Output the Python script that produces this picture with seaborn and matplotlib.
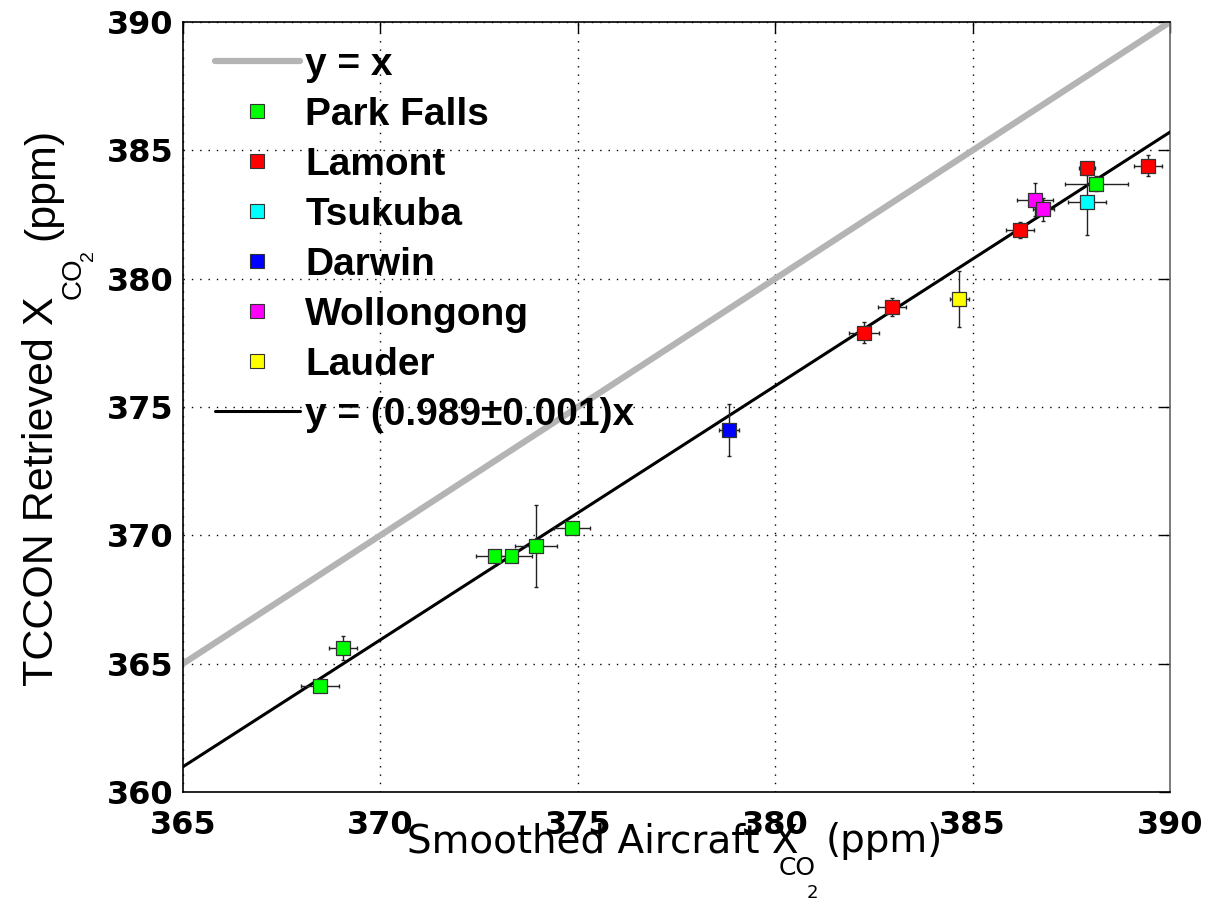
import numpy as np
import pandas as pd
import seaborn as sns
import matplotlib
matplotlib.use("Agg")
import matplotlib.pyplot as plt
from matplotlib.lines import Line2D

# ---------------- data ----------------
sites = ["Park Falls", "Lamont", "Tsukuba", "Darwin", "Wollongong", "Lauder"]
site_colors = ["#00ff00", "#ff0000", "#00ffff", "#0000ff", "#ff00ff", "#ffff00"]

park_x = [368.47, 369.05, 372.89, 373.32, 373.95, 374.85, 388.13]
park_y = [364.13, 365.60, 369.20, 369.20, 369.60, 370.30, 383.70]
park_xe = [0.47, 0.36, 0.46, 0.52, 0.53, 0.46, 0.80]
park_ye = [0.15, 0.47, 0.15, 0.15, 1.60, 0.20, 0.30]

lamont_x = [382.25, 382.96, 386.20, 387.90, 389.44]
lamont_y = [377.90, 378.90, 381.90, 384.30, 384.40]
lamont_xe = [0.37, 0.36, 0.36, 0.20, 0.36]
lamont_ye = [0.42, 0.34, 0.30, 0.25, 0.40]

tsukuba_x = [387.90]
tsukuba_y = [383.00]
tsukuba_xe = [0.48]
tsukuba_ye = [1.30]

darwin_x = [378.83]
darwin_y = [374.10]
darwin_xe = [0.26]
darwin_ye = [1.00]

wollongong_x = [386.58, 386.79]
wollongong_y = [383.08, 382.70]
wollongong_xe = [0.45, 0.26]
wollongong_ye = [0.63, 0.45]

lauder_x = [384.66]
lauder_y = [379.20]
lauder_xe = [0.24]
lauder_ye = [1.10]

fit_slope = 0.989
fit_label = "y = (0.989\u00b10.001)x"
one_label = "y = x"
axis_range = [365, 390]
y_range = [360, 390]
xticks = [365, 370, 375, 380, 385, 390]
yticks = [360, 365, 370, 375, 380, 385, 390]
xlabel_parts = ["Smoothed Aircraft X", "CO", "2", "(ppm)"]
ylabel_parts = ["TCCON Retrieved X", "CO", "2", "(ppm)"]

# ---------------- build table ----------------
groups = [
    ("Park Falls", park_x, park_y, park_xe, park_ye),
    ("Lamont", lamont_x, lamont_y, lamont_xe, lamont_ye),
    ("Tsukuba", tsukuba_x, tsukuba_y, tsukuba_xe, tsukuba_ye),
    ("Darwin", darwin_x, darwin_y, darwin_xe, darwin_ye),
    ("Wollongong", wollongong_x, wollongong_y, wollongong_xe, wollongong_ye),
    ("Lauder", lauder_x, lauder_y, lauder_xe, lauder_ye),
]
rows = []
for name, xs, ys, xes, yes in groups:
    for a, b, c, d in zip(xs, ys, xes, yes):
        rows.append(dict(site=name, aircraft=a, tccon=b, xerr=c, yerr=d))
df = pd.DataFrame(rows)

line_x = np.array(axis_range, dtype=float)
lines = pd.DataFrame({"x": line_x, "one": line_x, "fit": fit_slope * line_x})

# ---------------- style ----------------
sns.set_theme(style="white")
plt.rcParams["font.family"] = ["Liberation Sans", "DejaVu Sans"]
for k in ["text.color", "axes.labelcolor", "xtick.color", "ytick.color", "axes.edgecolor"]:
    plt.rcParams[k] = "black"

W, H = 1222, 905
fig = plt.figure(figsize=(W / 100, H / 100), dpi=100)
ax = fig.add_axes([183 / W, (H - 792) / H, 987 / W, 770 / H])

# reference lines
sns.lineplot(data=lines, x="x", y="one", ax=ax, color="#b4b4b4", linewidth=4.5,
             legend=False, zorder=2)
sns.lineplot(data=lines, x="x", y="fit", ax=ax, color="black", linewidth=2.2,
             legend=False, zorder=3)

# error bars
ax.errorbar(df["aircraft"], df["tccon"], xerr=df["xerr"], yerr=df["yerr"],
            fmt="none", ecolor="#222222", elinewidth=1.0, capsize=1.5,
            capthick=1.0, zorder=4)

# points
palette = dict(zip(sites, site_colors))
sns.scatterplot(data=df, x="aircraft", y="tccon", hue="site", palette=palette,
                hue_order=sites, marker="s", s=100, edgecolor="#333333",
                linewidth=0.9, ax=ax, legend=False, zorder=5)

# axes
ax.set_xlim(axis_range)
ax.set_ylim(y_range)
ax.set_xticks(xticks)
ax.set_yticks(yticks)
ax.set_xticklabels([str(t) for t in xticks], fontfamily="DejaVu Sans",
                   fontweight="bold", fontsize=23)
ax.set_yticklabels([str(t) for t in yticks], fontfamily="DejaVu Sans",
                   fontweight="bold", fontsize=23)
ax.tick_params(axis="both", direction="in", length=8, width=1,
               top=True, right=True, colors="black")
ax.tick_params(axis="x", pad=13)
ax.tick_params(axis="y", pad=7)
ax.grid(True, color="black", linestyle=(0, (1, 5)), linewidth=1.0)
for s in ax.spines.values():
    s.set_visible(True)
    s.set_color("black")
    s.set_linewidth(1.2)
ax.spines["right"].set_color("#666666")
ax.set_xlabel("")
ax.set_ylabel("")

# legend
handles = [Line2D([], [], color="#b4b4b4", linewidth=4.5)]
for c in site_colors:
    handles.append(Line2D([], [], linestyle="none", marker="s", markersize=10.5,
                          markerfacecolor=c, markeredgecolor="#333333",
                          markeredgewidth=0.8))
handles.append(Line2D([], [], color="black", linewidth=2.2))
labels = [one_label] + sites + [fit_label]
leg = ax.legend(handles, labels, loc="upper left", frameon=False,
                bbox_to_anchor=(16 / 987, 1 - 9 / 770),
                prop=dict(family="Liberation Sans", weight="bold", size=28),
                handlelength=2.2, handletextpad=0.13, labelspacing=0.36,
                borderaxespad=0.0, borderpad=0.4)

# ---------------- axis labels with dropped subscripts ----------------
renderer = fig.canvas.get_renderer()


def horiz_label(parts, sizes, fam, dxs, drops, base, center):
    texts = []
    pos = 0.0
    for s, sz, dx, dr in zip(parts, sizes, dxs, drops):
        pos += dx
        t = fig.text(pos / W, (H - (base + dr)) / H, s, fontsize=sz, family=fam,
                     ha="left", va="baseline")
        pos += t.get_window_extent(renderer).width
        texts.append(t)
    shift = center - pos / 2.0
    for t in texts:
        x, y = t.get_position()
        t.set_position((x + shift / W, y))
    return texts


def vert_label(parts, sizes, fam, dxs, drops, base, center):
    # base: x pixel of baseline; center: y pixel (from top) of label centre
    texts = []
    pos = 0.0  # display pixels going upward
    for s, sz, dx, dr in zip(parts, sizes, dxs, drops):
        pos += dx
        t = fig.text((base + dr) / W, pos / H, s, fontsize=sz, family=fam,
                     rotation=90, rotation_mode="anchor", ha="left", va="baseline")
        pos += t.get_window_extent(renderer).height
        texts.append(t)
    start = (H - center) - pos / 2.0
    for t in texts:
        x, y = t.get_position()
        t.set_position((x, y + start / H))
    return texts


horiz_label(xlabel_parts, [28, 18, 13, 28], "DejaVu Sans",
            [0, -20, -9, 8], [0, 23, 46, 0], base=852, center=675)
vert_label(ylabel_parts, [31, 20, 14, 31], "Liberation Sans",
           [0, -2, -4, 10], [0, 28, 40, 0], base=53, center=407)

fig.savefig("out.png", dpi=100)
